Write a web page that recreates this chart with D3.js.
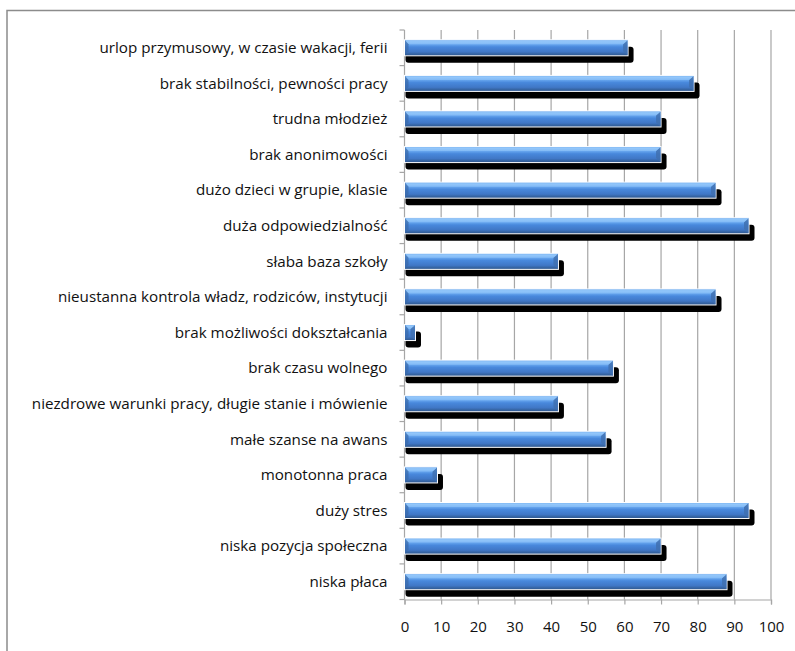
<!DOCTYPE html>
<html>
<head>
<meta charset="utf-8">
<script src="https://cdn.jsdelivr.net/npm/d3@7"></script>
<style>
  html, body { margin: 0; padding: 0; background: #fff; }
  svg { display: block; }
  text { font-family: "Open Sans", Lato, sans-serif; fill: #111; }
</style>
</head>
<body>
<div id="chart"></div>
<script>
// Categories listed from top to bottom of the chart
const categories = [
  "urlop przymusowy, w czasie wakacji, ferii",
  "brak stabilności, pewności pracy",
  "trudna młodzież",
  "brak anonimowości",
  "dużo dzieci w grupie, klasie",
  "duża odpowiedzialność",
  "słaba baza szkoły",
  "nieustanna kontrola władz, rodziców, instytucji",
  "brak możliwości dokształcania",
  "brak czasu wolnego",
  "niezdrowe warunki pracy, długie stanie i mówienie",
  "małe szanse na awans",
  "monotonna praca",
  "duży stres",
  "niska pozycja społeczna",
  "niska płaca"
];
const values = [61, 79, 70, 70, 85, 94, 42, 85, 3, 57, 42, 55, 9, 94, 70, 88];
const xTicks = [0, 10, 20, 30, 40, 50, 60, 70, 80, 90, 100];

const W = 795, H = 651;
const plot = { left: 404.5, right: 771, top: 30, bottom: 599.5 };
const fontFamily = "'Open Sans', Lato, sans-serif";
const fontSize = 15.2;

const svg = d3.select("#chart").append("svg")
  .attr("width", W).attr("height", H);

// Outer chart frame (extends past the visible window on right and bottom)
svg.append("rect")
  .attr("x", 7).attr("y", 10.5)
  .attr("width", 820).attr("height", 700)
  .attr("fill", "none").attr("stroke", "#8c8c8c").attr("stroke-width", 1.5);

const x = d3.scaleLinear().domain([0, 100]).range([plot.left, plot.right]);
const y = d3.scaleBand().domain(categories).range([plot.top, plot.bottom])
  .paddingInner(0.55).paddingOuter(0.275);

// Bar gradient with bevel look
const defs = svg.append("defs");
const grad = defs.append("linearGradient").attr("id", "barGrad")
  .attr("x1", 0).attr("y1", 0).attr("x2", 0).attr("y2", 1);
[[0, "#5b9ae6"], [0.12, "#92c6fa"], [0.28, "#68a7ef"], [0.45, "#4888dc"],
 [0.75, "#4077c6"], [0.88, "#3665a4"], [1, "#2e568e"]]
  .forEach(([o, c]) => grad.append("stop").attr("offset", o).attr("stop-color", c));

// Vertical gridlines
svg.append("g").selectAll("line").data(xTicks.filter(d => d > 0)).join("line")
  .attr("x1", d => x(d)).attr("x2", d => x(d))
  .attr("y1", plot.top).attr("y2", plot.bottom)
  .attr("stroke", "#a6a6a6").attr("stroke-width", 1.2);

// X axis
const xAxis = svg.append("g").attr("transform", `translate(0,${plot.bottom})`)
  .call(d3.axisBottom(x).tickValues(xTicks).tickSize(5).tickPadding(17));
xAxis.select(".domain").attr("stroke", "#a6a6a6").attr("stroke-width", 1.2);
xAxis.selectAll(".tick line").attr("stroke", "#a6a6a6").attr("stroke-width", 1.2);
xAxis.selectAll(".tick text").attr("font-size", 15)
  .attr("font-family", fontFamily).attr("fill", "#111");

// Y axis: ticks at band boundaries
const step = y.step();
const boundaries = d3.range(categories.length + 1).map(i => plot.top + i * step);
svg.append("g").selectAll("line").data(boundaries).join("line")
  .attr("x1", plot.left - 5).attr("x2", plot.left)
  .attr("y1", d => d).attr("y2", d => d)
  .attr("stroke", "#a6a6a6").attr("stroke-width", 1.2);
svg.append("line")
  .attr("x1", plot.left).attr("x2", plot.left)
  .attr("y1", plot.top).attr("y2", plot.bottom)
  .attr("stroke", "#a6a6a6").attr("stroke-width", 1.2);

// Category labels
svg.append("g").selectAll("text").data(categories).join("text")
  .attr("x", plot.left - 17)
  .attr("y", d => y(d) + y.bandwidth() / 2)
  .attr("dy", "0.35em")
  .attr("text-anchor", "end")
  .attr("font-size", fontSize)
  .text(d => d);

const data = categories.map((c, i) => ({ c, v: values[i] }));
const bh = y.bandwidth();

// Drop shadows
svg.append("g").selectAll("rect").data(data).join("rect")
  .attr("x", plot.left + 1)
  .attr("y", d => y(d.c) + 7)
  .attr("width", d => x(d.v) - plot.left + 4.5)
  .attr("height", bh)
  .attr("rx", 3).attr("ry", 3)
  .attr("fill", "#000");

// Bars
const bars = svg.append("g").selectAll("g").data(data).join("g");
bars.append("rect")
  .attr("x", plot.left)
  .attr("y", d => y(d.c))
  .attr("width", d => x(d.v) - plot.left)
  .attr("height", bh)
  .attr("fill", "url(#barGrad)")
  .attr("stroke", "#ffffff").attr("stroke-width", 1);

// Bevel caps on both ends of each bar
bars.append("path")
  .attr("d", d => {
    const x1 = x(d.v), t = y(d.c) + 0.5, b = y(d.c) + bh - 0.5;
    const k = Math.min(5, (x1 - plot.left) / 2);
    return `M${x1 - 0.5},${t} L${x1 - 0.5},${b} L${x1 - k},${b - 4} L${x1 - k},${t + 4} Z`;
  })
  .attr("fill", "#3f70b0").attr("opacity", 0.85);
bars.append("path")
  .attr("d", d => {
    const x1 = x(d.v), t = y(d.c) + 0.5;
    const k = Math.min(5, (x1 - plot.left) / 2);
    return `M${x1 - 0.5},${t} L${x1 - k},${t + 4} L${plot.left + 4},${t + 4} L${plot.left + 0.5},${t} Z`;
  })
  .attr("fill", "#92c6fa").attr("opacity", 0.6);
bars.append("path")
  .attr("d", d => {
    const t = y(d.c) + 0.5, b = y(d.c) + bh - 0.5;
    return `M${plot.left + 0.5},${t} L${plot.left + 4},${t + 4} L${plot.left + 4},${b - 4} L${plot.left + 0.5},${b} Z`;
  })
  .attr("fill", "#3a6aa8").attr("opacity", 0.7);
</script>
</body>
</html>
